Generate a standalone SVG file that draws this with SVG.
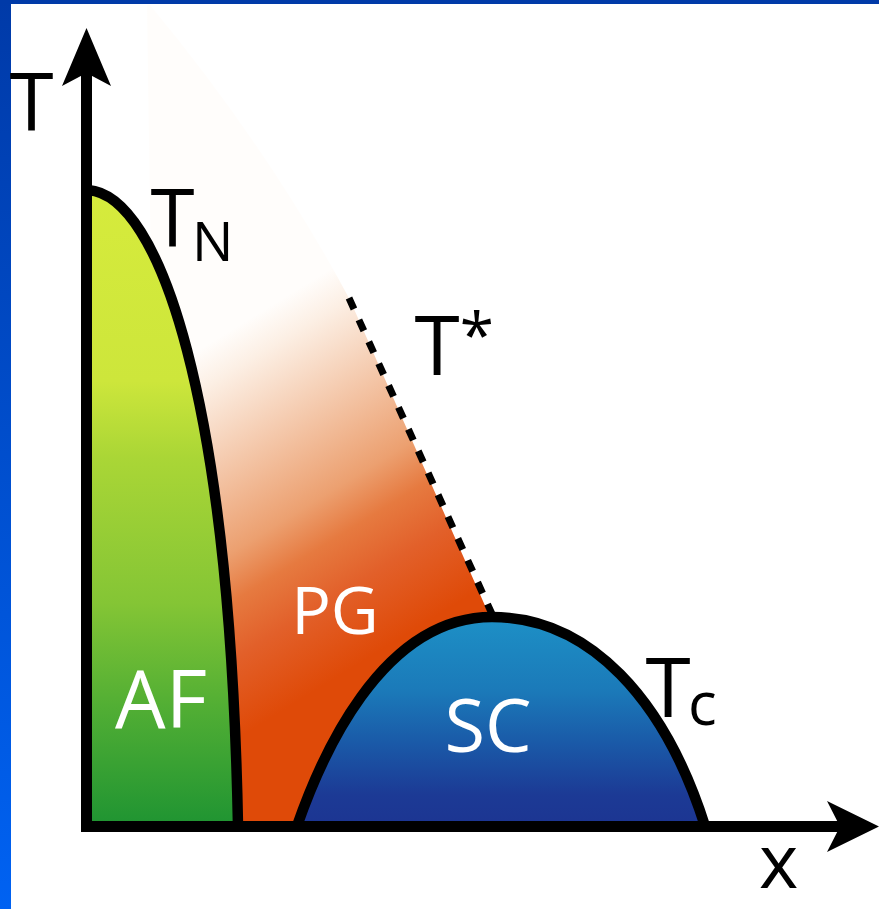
<svg xmlns="http://www.w3.org/2000/svg" width="879" height="909" viewBox="0 0 879 909">
  <defs>
    <linearGradient id="gBorder" x1="0" y1="0" x2="0" y2="909" gradientUnits="userSpaceOnUse">
      <stop offset="0" stop-color="#003aa8"/>
      <stop offset="1" stop-color="#0062f2"/>
    </linearGradient>
    <linearGradient id="gAF" x1="0" y1="190" x2="0" y2="826" gradientUnits="userSpaceOnUse">
      <stop offset="0" stop-color="#d6eb3c"/>
      <stop offset="0.3" stop-color="#cde63b"/>
      <stop offset="0.42" stop-color="#aad636"/>
      <stop offset="0.65" stop-color="#84c535"/>
      <stop offset="0.8" stop-color="#55b034"/>
      <stop offset="1" stop-color="#1f9432"/>
    </linearGradient>
    <linearGradient id="gPG" x1="280" y1="300" x2="464" y2="599" gradientUnits="userSpaceOnUse">
      <stop offset="0" stop-color="#fffdfb"/>
      <stop offset="0.1" stop-color="#fcefe4"/>
      <stop offset="0.54" stop-color="#eca070"/>
      <stop offset="0.66" stop-color="#e67a40"/>
      <stop offset="0.8" stop-color="#e2602a"/>
      <stop offset="1" stop-color="#df4a08"/>
    </linearGradient>
    <linearGradient id="gSC" x1="0" y1="617" x2="0" y2="826" gradientUnits="userSpaceOnUse">
      <stop offset="0" stop-color="#1d90c6"/>
      <stop offset="0.35" stop-color="#1b7ab9"/>
      <stop offset="0.6" stop-color="#1a5aa8"/>
      <stop offset="0.85" stop-color="#1c3a95"/>
      <stop offset="1" stop-color="#1c3592"/>
    </linearGradient>
    <style>
      .curve { fill: none; stroke: #000; stroke-width: 10.5; }
      .dash { fill: none; stroke: #000; stroke-width: 7; stroke-dasharray: 12 12; }
      .lbl { font-family: "Open Sans", "DejaVu Sans", sans-serif; fill: #000; }
      .reg { font-family: "Open Sans", "DejaVu Sans", sans-serif; fill: #fff; text-anchor: middle; }
    </style>
  </defs>

  <rect x="0" y="0" width="879" height="909" fill="#fff"/>
  <g id="border">
    <rect x="0" y="0" width="11" height="909" fill="url(#gBorder)"/>
    <rect x="0" y="0" width="879" height="4" fill="#003aa8"/>
  </g>

  <g id="PG">
    <path d="M 150 5 Q 270 150 350 300 L 490 617 C 380 617 320 760 297 826 L 238 826 C 232.4 527.8 196.42 337.89 150.64 249.07 L 147 5 Z" fill="url(#gPG)"/>
    <text class="reg" x="335" y="634" font-size="66">PG</text>
  </g>

  <g id="AF">
    <path d="M 88 190 C 160 195 230 400 238 826 L 88 826 Z" fill="url(#gAF)"/>
    <text class="reg" x="161" y="728" font-size="80">AF</text>
  </g>

  <g id="SC">
    <path d="M 297 826 C 320 760 380 617 492 617 C 590 617 665 700 705 826 Z" fill="url(#gSC)"/>
    <text class="reg" x="488" y="752" font-size="74">SC</text>
  </g>

  <g id="connectors">
    <path id="TN-line" class="curve" d="M 88 190 C 160 195 230 400 238 826"/>
    <path id="Tc-line" class="curve" d="M 297 826 C 320 760 380 617 492 617 C 590 617 665 700 705 826"/>
    <path id="Tstar-line" class="dash" d="M 349 298 L 492 614"/>
  </g>

  <g id="axes">
    <rect x="81" y="73" width="11" height="759" fill="#000"/>
    <rect x="81" y="821" width="760" height="11" fill="#000"/>
    <polygon points="86.5,28 111,86 86.5,73 62,86" fill="#000"/>
    <polygon points="879,826.5 827,801 840,826.5 827,852" fill="#000"/>
  </g>

  <g id="labels">
    <text class="lbl" x="9.5" y="131" font-size="80">T</text>
    <text class="lbl" x="150.5" y="247" font-size="80">T</text>
    <text class="lbl" x="192" y="261" font-size="55">N</text>
    <text class="lbl" x="414.5" y="375" font-size="82">T<tspan font-size="62" dy="-18">*</tspan></text>
    <text class="lbl" x="645.5" y="717" font-size="82">T</text>
    <text class="lbl" x="688" y="725" font-size="60">c</text>
    <text class="lbl" x="759" y="888" font-size="75">x</text>
  </g>
</svg>
